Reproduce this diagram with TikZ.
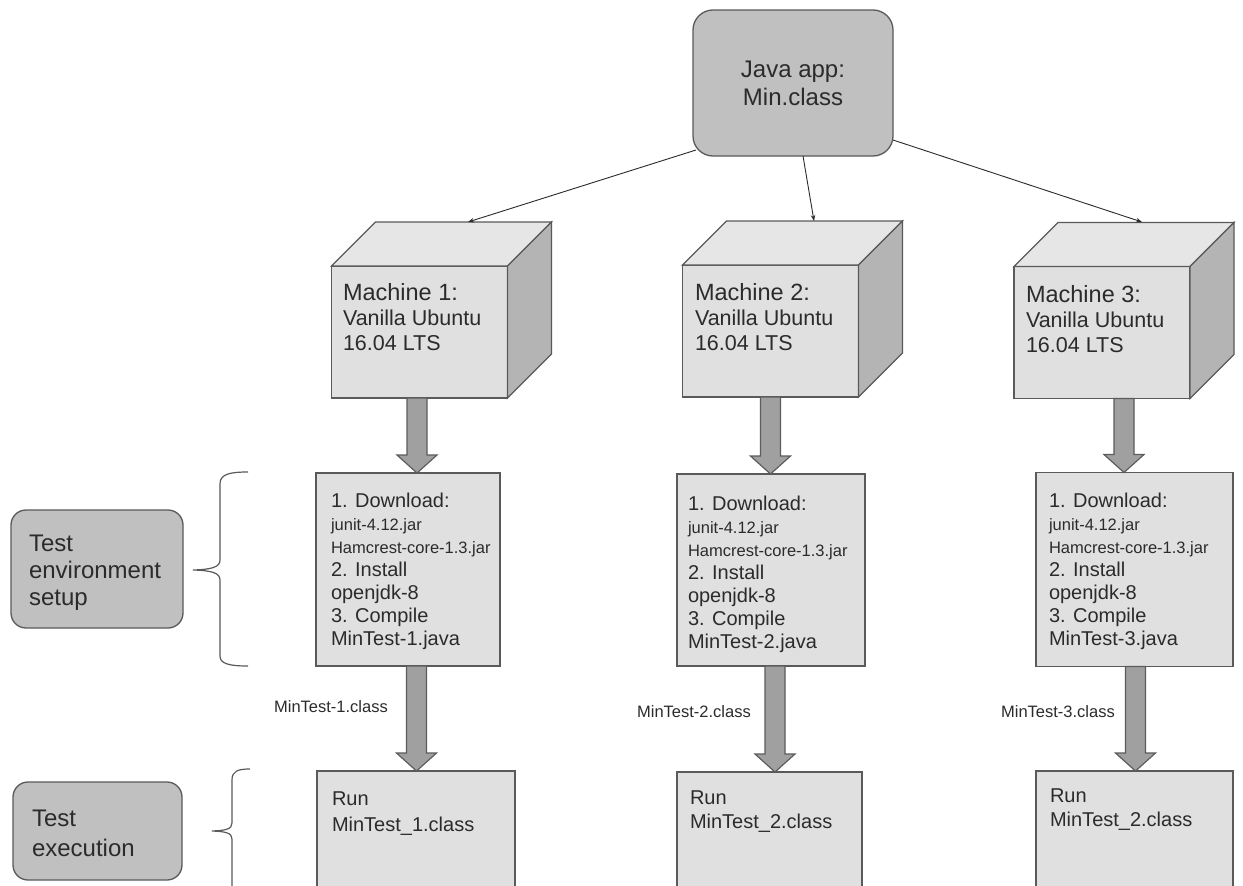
\documentclass[tikz,border=0pt]{standalone}
\usepackage{fontspec}
\setmainfont{Liberation Sans}
\usetikzlibrary{arrows.meta,calc}

\definecolor{edge}{HTML}{5A5A5A}
\definecolor{tagfill}{HTML}{C0C0C0}
\definecolor{face}{HTML}{E0E0E0}
\definecolor{facetop}{HTML}{E6E6E6}
\definecolor{faceside}{HTML}{B4B4B4}
\definecolor{arrowfill}{HTML}{A0A0A0}
\definecolor{arrowedge}{HTML}{5C5C5C}
\definecolor{ink}{HTML}{2B2B2B}

\newcommand\jarfont{\fontsize{16.5}{23}\selectfont}

\tikzset{
  boxline/.style={draw=edge, line width=1.3pt, inner sep=0pt, outer sep=0pt},
  tag/.style={boxline, fill=tagfill, rounded corners=15pt},
  panel/.style={boxline, fill=face},
  txt/.style={text=ink, inner sep=0pt, outer sep=0pt, anchor=north west, align=left},
  link/.style={draw=ink, line width=0.9pt, -{Stealth[length=6pt,width=4.5pt]}},
  fat/.style={draw=arrowedge, fill=arrowfill, line width=1.2pt, line join=miter},
  bracket/.style={draw=edge, line width=1.2pt},
  arrowtag/.style={text=ink, inner sep=0pt, anchor=base east, font=\fontsize{16.5}{20}\selectfont},
}

% thick block arrow pointing down from one node to another
\newcommand\fatarrow[2]{%
  \path[fat] let \p1=(#1), \p2=(#2) in
    (\x1-10pt,\y1) -- (\x1+10pt,\y1) -- (\x1+10pt,\y2+18pt) -- (\x1+20pt,\y2+18pt)
    -- (\x1,\y2) -- (\x1-20pt,\y2+18pt) -- (\x1-10pt,\y2+18pt) -- cycle;}

% top and side faces of a machine cube, behind its front face node
\newcommand\cubefaces[1]{%
  \path[boxline, fill=facetop] (#1.north west) -- ++(44,-44) -- ($(#1.north east)+(44,-44)$) -- (#1.north east) -- cycle;
  \path[boxline, fill=faceside] (#1.north east) -- ++(44,-44) -- ($(#1.south east)+(44,-44)$) -- (#1.south east) -- cycle;}

\begin{document}
\begin{tikzpicture}[x=1pt,y=-1pt]
\useasboundingbox (0,0) rectangle (1243,886);
\fill[white] (0,0) rectangle (1243,886);
\clip (0,0) rectangle (1243,886);

% application
\node[tag, rounded corners=20pt, minimum width=200, minimum height=146, align=center,
      text=ink, font=\fontsize{24}{28}\selectfont] (java) at (793,83) {Java app:\\Min.class};

% machines
\foreach \n/\cx/\cy in {1/419.5/332, 2/770.5/331, 3/1102/332.5}{
  \node[panel, minimum width=176, minimum height=132] (m\n) at (\cx,\cy) {};
  \cubefaces{m\n}
}
\node[txt, font=\fontsize{21.5}{25}\selectfont] (m1t) at (343,283) {{\fontsize{23.5}{25}\selectfont Machine 1:}\\Vanilla Ubuntu\\16.04 LTS};
\node[txt, font=\fontsize{21.5}{25}\selectfont] (m2t) at (695,283.5) {{\fontsize{23.5}{25}\selectfont Machine 2:}\\Vanilla Ubuntu\\16.04 LTS};
\node[txt, font=\fontsize{21.5}{25}\selectfont] (m3t) at (1026,285) {{\fontsize{23.5}{25}\selectfont Machine 3:}\\Vanilla Ubuntu\\16.04 LTS};

\coordinate (t1) at (468,222);
\coordinate (t2) at (814,221);
\coordinate (t3) at (1142,222);
\draw[link] ([shift={(3,-6)}]java.south west) -- (t1);
\draw[link] ([xshift=10pt]java.south) -- (t2);
\draw[link] ([yshift=16pt]java.south east) -- (t3);

% setup steps
\node[panel, minimum width=184, minimum height=193] (s1) at (408,569.5) {};
\node[panel, minimum width=188, minimum height=192] (s2) at (771,570) {};
\node[panel, minimum width=197, minimum height=194] (s3) at (1134.5,569.5) {};
\foreach \n/\x/\y in {1/331/492.6, 2/688/495.6, 3/1049/492.6}{
  \node[txt, font=\fontsize{20}{23}\selectfont] (s\n t) at (\x,\y)
    {1. Download:\\{\jarfont junit-4.12.jar}\\{\jarfont Hamcrest-core-1.3.jar}\\2. Install\\openjdk-8\\3. Compile\\MinTest-\n.java};
}

% test runs
\node[panel, minimum width=198, minimum height=189] (r1) at (416,865.5) {};
\node[panel, minimum width=185, minimum height=189] (r2) at (769.5,866.5) {};
\node[panel, minimum width=197, minimum height=189] (r3) at (1134.5,865.5) {};
\node[txt, font=\fontsize{20}{26}\selectfont] (r1t) at (332,791.7) {Run\\MinTest\_1.class};
\node[txt, font=\fontsize{20}{24.5}\selectfont] (r2t) at (690,790.7) {Run\\MinTest\_2.class};
\node[txt, font=\fontsize{20}{24}\selectfont] (r3t) at (1050,788.4) {Run\\MinTest\_2.class};

% block arrows
\fatarrow{[xshift=-2.5pt]m1.south}{s1.north}
\fatarrow{m2.south}{s2.north}
\fatarrow{[xshift=22pt]m3.south}{s3.north}
\fatarrow{[xshift=8.5pt]s1.south}{r1.north}
\fatarrow{[xshift=4pt]s2.south}{r2.north}
\fatarrow{[xshift=1pt]s3.south}{r3.north}

\node[arrowtag] (a1) at (388,712) {MinTest-1.class};
\node[arrowtag] (a2) at (751,717.5) {MinTest-2.class};
\node[arrowtag] (a3) at (1115,717.5) {MinTest-3.class};

% phase labels
\node[tag, minimum width=172, minimum height=118] (ts) at (97,569) {};
\node[txt, font=\fontsize{24}{27}\selectfont] (tst) at (29,535.4) {Test\\environment\\setup};
\node[tag, minimum width=169, minimum height=98] (te) at (97.5,831) {};
\node[txt, font=\fontsize{24}{30}\selectfont] (tet) at (32,809.7) {Test\\execution};

% braces
\draw[bracket] (248,472) .. controls (230,472) and (220,474) .. (220,484) -- (220,560)
  .. controls (220,567) and (212,569.5) .. (193,570) .. controls (212,570.5) and (220,573) .. (220,580)
  -- (220,656) .. controls (220,664) and (230,666) .. (248,666);
\draw[bracket] (250,769) .. controls (238,769) and (232,771) .. (232,780) -- (232,823)
  .. controls (232,829) and (226,830.5) .. (212,831) .. controls (226,831.5) and (232,833) .. (232,839)
  -- (232,900);
\end{tikzpicture}
\end{document}
